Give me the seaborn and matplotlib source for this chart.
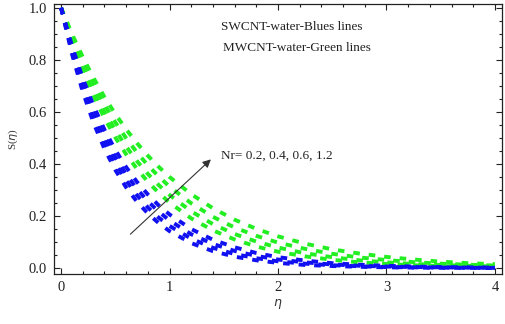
import numpy as np
import pandas as pd
import matplotlib
matplotlib.use("Agg")
import matplotlib.pyplot as plt
import seaborn as sns
from matplotlib.ticker import MultipleLocator

ETA = [0.0, 0.1, 0.2, 0.3, 0.4, 0.5, 0.6, 0.7, 0.8, 0.9, 1.0,
       1.2, 1.4, 1.6, 1.8, 2.0, 2.25, 2.5, 2.75, 3.0, 3.25, 3.5, 3.75, 4.0]

# SWCNT-water (blue), Nr = 0.2, 0.4, 0.6, 1.2
S_BLUE_1 = [1.0, 0.823, 0.677, 0.557, 0.458, 0.377, 0.310, 0.255, 0.210, 0.173, 0.142,
            0.096, 0.065, 0.044, 0.030, 0.020, 0.012, 0.008, 0.005, 0.003, 0.002, 0.001, 0.001, 0.000]
S_BLUE_2 = [1.0, 0.834, 0.695, 0.579, 0.483, 0.403, 0.336, 0.280, 0.233, 0.194, 0.162,
            0.113, 0.078, 0.054, 0.038, 0.026, 0.017, 0.011, 0.007, 0.004, 0.003, 0.002, 0.001, 0.001]
S_BLUE_3 = [1.0, 0.844, 0.712, 0.600, 0.507, 0.427, 0.361, 0.304, 0.257, 0.217, 0.183,
            0.130, 0.093, 0.066, 0.047, 0.033, 0.022, 0.014, 0.009, 0.006, 0.004, 0.003, 0.002, 0.001]
S_BLUE_4 = [1.0, 0.854, 0.729, 0.623, 0.532, 0.454, 0.388, 0.331, 0.283, 0.241, 0.206,
            0.150, 0.109, 0.080, 0.058, 0.042, 0.029, 0.019, 0.013, 0.009, 0.006, 0.004, 0.003, 0.002]

# MWCNT-water (green), Nr = 0.2, 0.4, 0.6, 1.2
S_GREEN_1 = [1.0, 0.871, 0.759, 0.661, 0.576, 0.502, 0.437, 0.381, 0.332, 0.289, 0.252,
             0.191, 0.145, 0.110, 0.083, 0.063, 0.045, 0.032, 0.022, 0.016, 0.011, 0.008, 0.006, 0.004]
S_GREEN_2 = [1.0, 0.881, 0.776, 0.683, 0.602, 0.530, 0.467, 0.411, 0.362, 0.319, 0.281,
             0.218, 0.169, 0.131, 0.102, 0.079, 0.057, 0.042, 0.030, 0.022, 0.016, 0.012, 0.009, 0.006]
S_GREEN_3 = [1.0, 0.890, 0.793, 0.706, 0.629, 0.560, 0.499, 0.444, 0.395, 0.352, 0.313,
             0.249, 0.197, 0.156, 0.124, 0.098, 0.074, 0.055, 0.041, 0.031, 0.023, 0.017, 0.013, 0.010]
S_GREEN_4 = [1.0, 0.900, 0.811, 0.730, 0.657, 0.592, 0.533, 0.480, 0.432, 0.389, 0.350,
             0.284, 0.230, 0.186, 0.151, 0.122, 0.094, 0.072, 0.056, 0.043, 0.033, 0.025, 0.019, 0.015]

BLUE_CURVES = [S_BLUE_1, S_BLUE_2, S_BLUE_3, S_BLUE_4]
GREEN_CURVES = [S_GREEN_1, S_GREEN_2, S_GREEN_3, S_GREEN_4]

sns.set_theme(style="ticks")
plt.rcParams['font.family'] = ['Liberation Serif', 'DejaVu Serif']

fig = plt.figure(figsize=(5.05, 3.24), dpi=100)
ax = fig.add_axes([0.107, 0.154, 0.887, 0.834])

dash = (0, (1.7, 2.3))
for s in GREEN_CURVES:
    sns.lineplot(x=ETA, y=s, ax=ax, color='#22ee22', lw=2.8, linestyle=dash)
for s in BLUE_CURVES:
    sns.lineplot(x=ETA, y=s, ax=ax, color='#1010f0', lw=2.8, linestyle=dash)

ax.set_xlim(-0.065, 4.065)
ax.set_ylim(-0.023, 1.015)
ax.xaxis.set_major_locator(MultipleLocator(1))
ax.xaxis.set_minor_locator(MultipleLocator(0.2))
ax.yaxis.set_major_locator(MultipleLocator(0.2))
ax.yaxis.set_minor_locator(MultipleLocator(0.05))
ax.yaxis.set_major_formatter(matplotlib.ticker.FormatStrFormatter('%.1f'))
ax.tick_params(which='both', direction='in', top=True, right=True, colors='#222222',
               labelsize=10.5, width=0.8)
ax.tick_params(which='major', length=4, pad=5)
ax.tick_params(which='minor', length=2)
for sp in ax.spines.values():
    sp.set_linewidth(0.9)
    sp.set_color('#222222')

ax.set_xlabel(r"$\eta$", fontsize=9, color='#333333', labelpad=2)
ax.set_ylabel(r"S($\eta$)", fontsize=8, color='#333333', labelpad=6)

ax.annotate("", xy=(1.40, 0.425), xytext=(0.62, 0.123),
            arrowprops=dict(arrowstyle='-|>', color='#333333', lw=0.8, mutation_scale=12))
ax.text(1.47, 0.433, "Nr= 0.2, 0.4, 0.6, 1.2", fontsize=9.5, va='center', ha='left', color='#222222')
ax.text(1.47, 0.927, "SWCNT-water-Blues lines", fontsize=9.5, va='center', ha='left', color='#222222')
ax.text(1.49, 0.847, "MWCNT-water-Green lines", fontsize=9.5, va='center', ha='left', color='#222222')

plt.savefig("out.png", dpi=100)
plt.close()
